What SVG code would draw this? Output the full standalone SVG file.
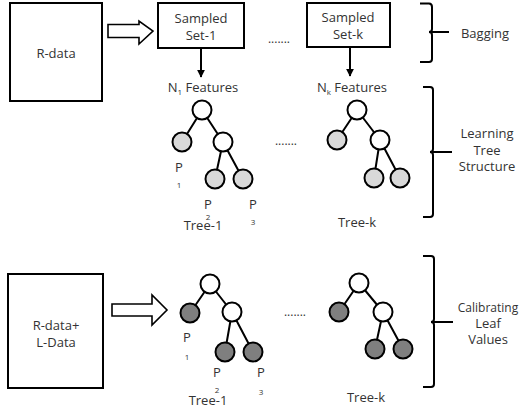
<svg xmlns="http://www.w3.org/2000/svg" width="520" height="411" viewBox="0 0 520 411">
<defs>
<style>
text{font-family:"Open Sans","Noto Sans","Liberation Sans",sans-serif;fill:#333;font-size:13px;text-anchor:middle}
.box{fill:#fff;stroke:#000;stroke-width:2}
.hol{fill:#fff;stroke:#000;stroke-width:1.6;stroke-linejoin:miter}
.edge{stroke:#000;stroke-width:2;fill:none}
.br{stroke:#000;stroke-width:2;fill:none}
.n{stroke:#000;stroke-width:2;fill:#fff}
.l1{stroke:#000;stroke-width:2;fill:#d9d9d9}
.l2{stroke:#000;stroke-width:2;fill:#7f7f7f}
.sub{font-size:8px}
.dots{font-size:12px}
</style>
<marker id="ah" viewBox="0 0 10 10" refX="9" refY="5" markerWidth="4" markerHeight="4" orient="auto"><path d="M0,0 L10,5 L0,10 z" fill="#000"/></marker>
</defs>

<g id="rdata"><rect class="box" x="10" y="3" width="92" height="98"/><text x="56" y="58">R-data</text></g>
<g id="set1"><rect class="box" x="158" y="3" width="86" height="45"/><text x="201" y="23">Sampled</text><text x="201" y="40">Set-1</text></g>
<g id="setk"><rect class="box" x="307" y="3" width="83" height="44"/><text x="348" y="22">Sampled</text><text x="348" y="39">Set-k</text></g>
<g id="rldata"><rect class="box" x="8" y="274" width="95" height="114"/><text x="56" y="330">R-data+</text><text x="56" y="347">L-Data</text></g>

<g id="connectors">
<path class="hol" d="M108,24.5 H139 V21 L153,31 L139,44 V37.5 H108 Z"/>
<path class="hol" d="M112,304 H152 V295 L167,310 L152,325 V316 H112 Z"/>
<line class="edge" x1="201" y1="48" x2="201" y2="77" marker-end="url(#ah)"/>
<line class="edge" x1="350" y1="47" x2="350" y2="76" marker-end="url(#ah)"/>
<path class="edge" d="M202,110 L182,142 M202,110 L223,142 M223,142 L215,179 M223,142 L243,179"/>
<path class="edge" d="M357,110 L337,140 M357,110 L380,140 M380,140 L374,178 M380,140 L400,178"/>
<path class="edge" d="M210,284 L190,313 M210,284 L232,312 M232,312 L225,352 M232,312 L253,352"/>
<path class="edge" d="M359,283 L339,312 M359,283 L383,312 M383,312 L375,349 M383,312 L403,349"/>
</g>

<g id="brackets">
<path class="br" d="M420,3.5 H429 Q432,3.5 432,7 V29 Q432,32 429,32 Q432,32 432,35 V59 Q432,62 429,62 H420 M431,32 H449"/>
<path class="br" d="M423,87 H430 Q433,87 433,90 V149 Q433,152 430,152 Q433,152 433,155 V214 Q433,217 430,217 H423 M432,152 H452"/>
<path class="br" d="M423,256 H431 Q434,256 434,259 V319 Q434,322 431,322 Q434,322 434,325 V384 Q434,387 431,387 H423 M433,322 H453"/>
</g>

<g id="tree1">
<circle class="n" cx="202" cy="110" r="9.5"/>
<circle class="l1" cx="182" cy="142" r="9.5"/>
<circle class="n" cx="223" cy="142" r="9.5"/>
<circle class="l1" cx="215" cy="179" r="9.5"/>
<circle class="l1" cx="243" cy="179" r="9.5"/>
<text x="179" y="172">P</text><text class="sub" x="179" y="188">1</text>
<text x="208" y="209">P</text><text class="sub" x="208" y="220">2</text>
<text x="253" y="209">P</text><text class="sub" x="253" y="225">3</text>
<text x="203" y="230">Tree-1</text>
</g>

<g id="treek">
<circle class="n" cx="357" cy="110" r="9.5"/>
<circle class="l1" cx="337" cy="140" r="9.5"/>
<circle class="n" cx="380" cy="140" r="9.5"/>
<circle class="l1" cx="374" cy="178" r="9.5"/>
<circle class="l1" cx="400" cy="178" r="9.5"/>
<text x="357" y="227">Tree-k</text>
</g>

<g id="tree1b">
<circle class="n" cx="210" cy="284" r="9.5"/>
<circle class="l2" cx="190" cy="313" r="9.5"/>
<circle class="n" cx="232" cy="312" r="9.5"/>
<circle class="l2" cx="225" cy="352" r="9.5"/>
<circle class="l2" cx="253" cy="352" r="9.5"/>
<text x="187" y="342">P</text><text class="sub" x="187" y="360">1</text>
<text x="217" y="377">P</text><text class="sub" x="217" y="393">2</text>
<text x="261" y="377">P</text><text class="sub" x="261" y="395">3</text>
<text x="208" y="405">Tree-1</text>
</g>

<g id="treekb">
<circle class="n" cx="359" cy="283" r="9.5"/>
<circle class="l2" cx="339" cy="312" r="9.5"/>
<circle class="n" cx="383" cy="312" r="9.5"/>
<circle class="l2" cx="375" cy="349" r="9.5"/>
<circle class="l2" cx="403" cy="349" r="9.5"/>
<text x="366" y="402">Tree-k</text>
</g>

<g id="labels">
<text x="203" y="92">N<tspan class="sub" dy="3">1</tspan><tspan dy="-3"> Features</tspan></text>
<text x="352" y="92">N<tspan class="sub" dy="3">k</tspan><tspan dy="-3"> Features</tspan></text>
<text class="dots" x="279" y="43">.......</text>
<text class="dots" x="286" y="145">.......</text>
<text class="dots" x="295" y="316">.......</text>
<text x="485" y="38">Bagging</text>
<text x="487" y="138">Learning</text>
<text x="487" y="155">Tree</text>
<text x="487" y="171">Structure</text>
<text x="488" y="312" style="font-size:12px">Calibrating</text>
<text x="488" y="328">Leaf</text>
<text x="488" y="344">Values</text>
</g>
</svg>
